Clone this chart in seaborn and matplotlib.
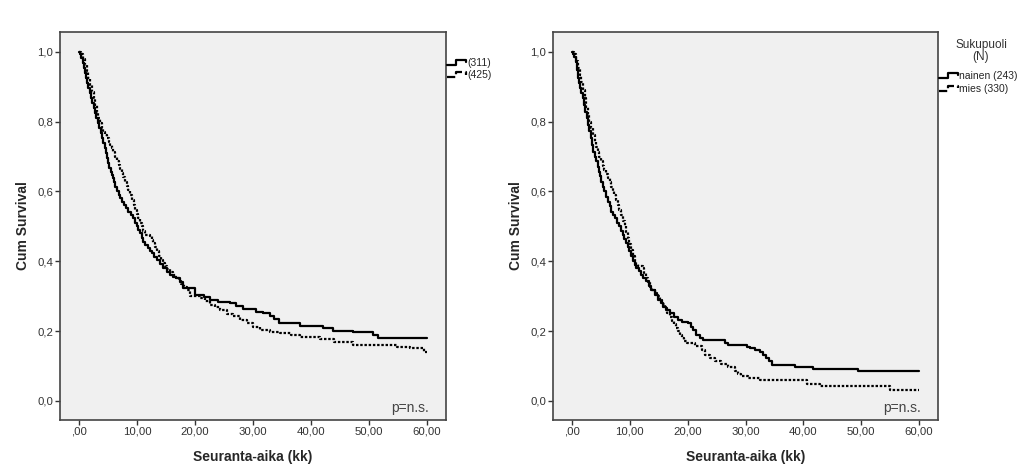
import pandas as pd
import matplotlib
matplotlib.use("Agg")
import matplotlib.pyplot as plt
from matplotlib.lines import Line2D
from matplotlib.legend_handler import HandlerBase
import seaborn as sns

# Kaplan-Meier curves, values (step-post)
left_a_t = [0.0, 0.17, 0.4, 0.63, 0.86, 1.0, 1.2, 1.4, 1.6, 1.8, 2.0, 2.25, 2.5, 2.7, 2.9, 3.2, 3.5,
            3.75, 4.0, 4.2, 4.4, 4.6, 4.8, 5.0, 5.2, 5.45, 5.7, 5.85, 6.0, 6.25, 6.5, 6.8, 7.1, 7.45,
            7.8, 8.15, 8.5, 8.9, 9.3, 9.6, 9.9, 10.2, 10.5, 10.8, 11.1, 11.45, 11.8, 12.15, 12.5,
            12.95, 13.4, 13.95, 14.5, 15.1, 15.7, 16.2, 16.8, 17.4, 18.0, 20.0, 21.5, 22.6, 24.0,
            26.0, 27.0, 28.3, 30.5, 31.8, 32.9, 33.6, 34.4, 38.1, 42.1, 43.8, 47.3, 50.7, 51.6, 60.0]
left_a_s = [1.0, 0.995, 0.982, 0.968, 0.953, 0.94, 0.925, 0.91, 0.896, 0.881, 0.867, 0.853, 0.839,
            0.824, 0.81, 0.795, 0.781, 0.767, 0.753, 0.738, 0.724, 0.709, 0.695, 0.681, 0.667, 0.657,
            0.648, 0.638, 0.628, 0.614, 0.60, 0.59, 0.581, 0.571, 0.562, 0.552, 0.542, 0.533, 0.523,
            0.511, 0.50, 0.49, 0.48, 0.468, 0.456, 0.446, 0.437, 0.43, 0.423, 0.413, 0.404, 0.392,
            0.38, 0.37, 0.361, 0.355, 0.351, 0.34, 0.323, 0.304, 0.297, 0.289, 0.284, 0.28, 0.272,
            0.263, 0.255, 0.251, 0.244, 0.235, 0.224, 0.215, 0.208, 0.199, 0.196, 0.189, 0.179, 0.179]

left_b_t = [0.0, 0.3, 0.65, 1.0, 1.3, 1.6, 1.9, 2.2, 2.5, 2.8, 3.05, 3.3, 3.6, 3.9, 4.2, 4.5, 4.8,
            5.1, 5.35, 5.6, 5.9, 6.2, 6.5, 6.8, 7.1, 7.4, 7.65, 7.9, 8.2, 8.5, 8.8, 9.1, 9.4, 9.7,
            9.95, 10.2, 10.5, 10.8, 11.1, 11.4, 12.2, 12.5, 12.8, 13.1, 13.4, 13.75, 14.1, 14.45,
            14.8, 15.2, 15.6, 16.2, 16.8, 17.2, 17.6, 18.1, 18.6, 19.1, 20.9, 21.7, 22.6, 23.5, 24.3,
            25.5, 26.6, 27.8, 28.9, 30.0, 31.2, 33.0, 34.7, 36.5, 38.1, 41.6, 43.9, 47.3, 54.8, 57.1,
            59.5, 60.0]
left_b_s = [1.0, 0.995, 0.98, 0.963, 0.944, 0.925, 0.905, 0.886, 0.867, 0.848, 0.829, 0.81, 0.795,
            0.781, 0.771, 0.762, 0.752, 0.743, 0.733, 0.724, 0.712, 0.70, 0.688, 0.676, 0.664, 0.652,
            0.64, 0.628, 0.617, 0.605, 0.59, 0.576, 0.562, 0.547, 0.535, 0.523, 0.511, 0.50, 0.488,
            0.476, 0.471, 0.461, 0.452, 0.44, 0.428, 0.416, 0.404, 0.394, 0.385, 0.377, 0.37, 0.36,
            0.351, 0.343, 0.335, 0.326, 0.318, 0.299, 0.294, 0.285, 0.275, 0.268, 0.261, 0.25, 0.242,
            0.232, 0.223, 0.212, 0.203, 0.198, 0.194, 0.19, 0.184, 0.177, 0.169, 0.160, 0.155, 0.150,
            0.140, 0.140]

nainen_t = [0.0, 0.1, 0.35, 0.6, 0.8, 1.0, 1.2, 1.4, 1.6, 1.85, 2.05, 2.3, 2.5, 2.7, 2.95, 3.2,
            3.45, 3.7, 3.9, 4.15, 4.4, 4.6, 4.8, 5.0, 5.3, 5.6, 5.9, 6.2, 6.5, 6.75, 7.1, 7.5, 7.85,
            8.2, 8.5, 8.8, 9.05, 9.3, 9.6, 9.9, 10.2, 10.5, 10.8, 11.1, 11.5, 11.9, 12.35, 12.8,
            13.25, 13.7, 14.3, 14.9, 15.4, 15.8, 16.3, 16.9, 17.6, 18.3, 19.0, 20.1, 20.6, 21.0,
            21.5, 22.1, 22.7, 26.4, 27.0, 30.2, 30.7, 31.6, 32.5, 33.0, 33.6, 34.0, 34.5, 38.6, 41.7,
            49.5, 60.0]
nainen_s = [1.0, 0.995, 0.985, 0.972, 0.948, 0.925, 0.91, 0.896, 0.881, 0.867, 0.848, 0.829, 0.81,
            0.791, 0.772, 0.753, 0.733, 0.714, 0.70, 0.686, 0.671, 0.657, 0.643, 0.628, 0.614, 0.60,
            0.585, 0.571, 0.557, 0.542, 0.533, 0.523, 0.511, 0.50, 0.488, 0.476, 0.464, 0.452, 0.44,
            0.428, 0.414, 0.40, 0.39, 0.381, 0.371, 0.361, 0.352, 0.342, 0.33, 0.318, 0.303, 0.289,
            0.279, 0.27, 0.26, 0.251, 0.241, 0.232, 0.227, 0.223, 0.212, 0.203, 0.189, 0.181, 0.173,
            0.165, 0.16, 0.155, 0.151, 0.146, 0.141, 0.13, 0.122, 0.113, 0.104, 0.098, 0.092, 0.085,
            0.085]

mies_t = [0.0, 0.3, 0.65, 1.0, 1.3, 1.55, 1.85, 2.15, 2.45, 2.7, 3.0, 3.3, 3.6, 3.9, 4.15, 4.45,
          4.7, 5.0, 5.3, 5.6, 5.9, 6.2, 6.5, 6.75, 7.0, 7.3, 7.6, 7.9, 8.2, 8.5, 8.8, 9.1, 9.35,
          9.6, 9.9, 10.2, 10.5, 10.8, 11.1, 11.4, 12.2, 12.5, 12.8, 13.1, 13.4, 13.85, 14.3, 14.75,
          15.2, 15.6, 16.0, 16.45, 16.9, 17.25, 17.6, 17.95, 18.3, 18.65, 19.0, 19.4, 19.8, 21.2,
          22.4, 23.0, 23.8, 24.7, 25.8, 27.0, 28.2, 28.7, 29.3, 30.5, 32.5, 40.6, 42.9, 55.0, 60.0]
mies_s = [1.0, 0.995, 0.975, 0.953, 0.934, 0.915, 0.891, 0.867, 0.843, 0.82, 0.80, 0.781, 0.762,
          0.743, 0.728, 0.714, 0.70, 0.686, 0.674, 0.662, 0.65, 0.638, 0.626, 0.614, 0.602, 0.59,
          0.576, 0.562, 0.547, 0.533, 0.516, 0.50, 0.483, 0.466, 0.45, 0.433, 0.416, 0.40, 0.392,
          0.385, 0.38, 0.366, 0.352, 0.34, 0.327, 0.318, 0.31, 0.30, 0.289, 0.277, 0.265, 0.252,
          0.24, 0.23, 0.22, 0.21, 0.20, 0.19, 0.18, 0.172, 0.165, 0.158, 0.146, 0.132, 0.124, 0.113,
          0.105, 0.098, 0.084, 0.077, 0.07, 0.064, 0.06, 0.049, 0.043, 0.032, 0.032]

left_labels = ["(311)", "(425)"]
right_labels = ["nainen (243)", "mies (330)"]
legend_title = "Sukupuoli\n(N)"
x_ticks = [0, 10, 20, 30, 40, 50, 60]
x_ticklabels = [",00", "10,00", "20,00", "30,00", "40,00", "50,00", "60,00"]
y_ticks = [0.0, 0.2, 0.4, 0.6, 0.8, 1.0]
y_ticklabels = ["0,0", "0,2", "0,4", "0,6", "0,8", "1,0"]

sns.set_style("ticks")
plt.rcParams['font.family'] = ['Liberation Sans', 'DejaVu Sans']

DOT = (0, (1.1, 0.8))


class StepHandler(HandlerBase):
    # small step-shaped legend key like SPSS
    def create_artists(self, legend, orig_handle, xdescent, ydescent, width, height, fontsize, trans):
        x0, x1 = -xdescent, -xdescent + width
        y0 = -ydescent + height * 0.2
        y1 = -ydescent + height * 0.85
        xm = x0 + width * 0.5
        xs = [x0, xm, xm, x1, x1]
        ys = [y0, y0, y1, y1, y1 - height * 0.35]
        ln = Line2D(xs, ys, color=orig_handle.get_color(), linestyle=orig_handle.get_linestyle(),
                    linewidth=orig_handle.get_linewidth(), transform=trans)
        return [ln]


def draw_panel(ax, t1, s1, t2, s2):
    d1 = pd.DataFrame({"t": t1, "s": s1})
    d2 = pd.DataFrame({"t": t2, "s": s2})
    sns.lineplot(data=d1, x="t", y="s", ax=ax, color="black", lw=1.6,
                 drawstyle="steps-post", estimator=None, sort=False)
    sns.lineplot(data=d2, x="t", y="s", ax=ax, color="black", lw=1.6, linestyle=DOT,
                 drawstyle="steps-post", estimator=None, sort=False)
    ax.set_facecolor("#f0f0f0")
    ax.set_xlim(-3.3, 63.3)
    ax.set_ylim(-0.055, 1.057)
    ax.set_xticks(x_ticks)
    ax.set_xticklabels(x_ticklabels)
    ax.set_yticks(y_ticks)
    ax.set_yticklabels(y_ticklabels)
    ax.tick_params(labelsize=8.2, length=3.5, width=1, color="#333333", labelcolor="#333333", pad=1.5)
    for sp in ax.spines.values():
        sp.set_visible(True)
        sp.set_color("#444444")
        sp.set_linewidth(1.2)
    ax.set_xlabel("Seuranta-aika (kk)", fontsize=10, fontweight="bold")
    ax.set_ylabel("Cum Survival", fontsize=10, fontweight="bold")
    ax.xaxis.set_label_coords(0.5, -0.077)
    ax.yaxis.set_label_coords(-0.079, 0.5)
    ax.text(0.955, 0.032, "p=n.s.", transform=ax.transAxes, ha="right", va="center",
            fontsize=10, color="#444444")


fig = plt.figure(figsize=(10.24, 4.69), dpi=100)
ax1 = fig.add_axes([60 / 1024, 49 / 469, 386 / 1024, 388 / 469])
ax2 = fig.add_axes([553 / 1024, 49 / 469, 385 / 1024, 388 / 469])

draw_panel(ax1, left_a_t, left_a_s, left_b_t, left_b_s)
draw_panel(ax2, nainen_t, nainen_s, mies_t, mies_s)

h_solid = Line2D([], [], color="black", lw=1.6)
h_dot = Line2D([], [], color="black", lw=1.6, linestyle=DOT)

fig.legend([h_solid, h_dot], left_labels, loc="upper left", bbox_to_anchor=(447 / 1024, 1 - 58 / 469),
           frameon=False, fontsize=7.5, handlelength=1.8, handletextpad=0.15, labelspacing=0.22,
           borderpad=0, borderaxespad=0, handler_map={Line2D: StepHandler()})

fig.text(981 / 1024, 1 - 51 / 469, legend_title, ha="center", va="center", fontsize=8.5,
         color="#333333", linespacing=1.05)
fig.legend([h_solid, h_dot], right_labels, loc="upper left", bbox_to_anchor=(939 / 1024, 1 - 71 / 469),
           frameon=False, fontsize=7.5, handlelength=1.8, handletextpad=0.15, labelspacing=0.3,
           borderpad=0, borderaxespad=0, handler_map={Line2D: StepHandler()})

fig.savefig("out.png", dpi=100)
